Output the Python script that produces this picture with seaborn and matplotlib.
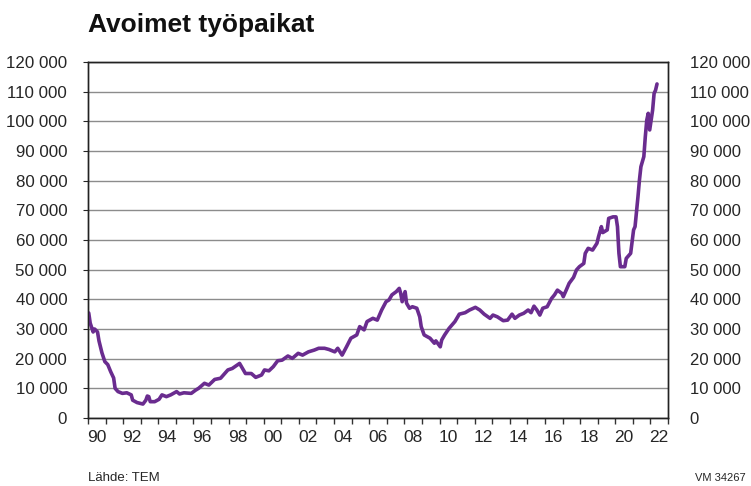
import pandas as pd
import matplotlib
matplotlib.use("Agg")
import matplotlib.pyplot as plt
import matplotlib.ticker as mticker
import seaborn as sns

# Avoimet työpaikat, kuukausittain (luettu kuvasta)
months = [
    "1990-01", "1990-02", "1990-04", "1990-05", "1990-07", "1990-08", "1990-10", "1990-12",
    "1991-02", "1991-04", "1991-06", "1991-07", "1991-09", "1991-12",
    "1992-03", "1992-06", "1992-07", "1992-10",
    "1993-02", "1993-04", "1993-05", "1993-06", "1993-07", "1993-10",
    "1994-01", "1994-03", "1994-06", "1994-09",
    "1995-01", "1995-03", "1995-06", "1995-11",
    "1996-02", "1996-04", "1996-08", "1996-11",
    "1997-03", "1997-07", "1997-12",
    "1998-03", "1998-08", "1998-10", "1998-12",
    "1999-04", "1999-07", "1999-11",
    "2000-01", "2000-04", "2000-07", "2000-10",
    "2001-01", "2001-05", "2001-08", "2001-12",
    "2002-03", "2002-07", "2002-11",
    "2003-02", "2003-06", "2003-09",
    "2004-01", "2004-03", "2004-06", "2004-09", "2004-12",
    "2005-04", "2005-06", "2005-09", "2005-11",
    "2006-03", "2006-06", "2006-09", "2006-12",
    "2007-02", "2007-04", "2007-07", "2007-09", "2007-10", "2007-11",
    "2008-01", "2008-02", "2008-04", "2008-06", "2008-09", "2008-11", "2008-12",
    "2009-02", "2009-06", "2009-09", "2009-10",
    "2010-01", "2010-02", "2010-04", "2010-07", "2010-11",
    "2011-02", "2011-06", "2011-09",
    "2012-01", "2012-04", "2012-07", "2012-11",
    "2013-01", "2013-04", "2013-08", "2013-11",
    "2014-02", "2014-04", "2014-07", "2014-10",
    "2015-01", "2015-03", "2015-05", "2015-07", "2015-09", "2015-11",
    "2016-02", "2016-05", "2016-07", "2016-09", "2016-12",
    "2017-01", "2017-03", "2017-05", "2017-08", "2017-10", "2017-12",
    "2018-03", "2018-04", "2018-06", "2018-09", "2018-12",
    "2019-01", "2019-03", "2019-04", "2019-07", "2019-08", "2019-11",
    "2020-01", "2020-02", "2020-03", "2020-04", "2020-07", "2020-08", "2020-11",
    "2021-01", "2021-02", "2021-04", "2021-05", "2021-06", "2021-08", "2021-09",
    "2021-10", "2021-11", "2021-12",
    "2022-01", "2022-02", "2022-03", "2022-04", "2022-05",
]
vacancies = [
    35400, 32000, 29000, 30000, 29000, 26000, 22000, 19000,
    18000, 15600, 13500, 10000, 8900, 8300,
    8500, 7800, 6000, 5200,
    4700, 6000, 7400, 7200, 5500, 5500,
    6300, 7800, 7200, 7800,
    8900, 8100, 8500, 8300,
    9400, 10000, 11700, 11100,
    13000, 13400, 16200,
    16700, 18400, 16700, 15000,
    15000, 13700, 14500,
    16200, 15900, 17300, 19300,
    19500, 20900, 20100, 21800,
    21200, 22300, 22900,
    23500, 23500, 23100,
    22300, 23500, 21200, 24000, 26900,
    28000, 30800, 29700, 32500,
    33600, 33000, 36400, 39200,
    39800, 41500, 42600, 43700, 42000, 39200,
    42600, 38700, 37000, 37500, 37000, 34100, 30800,
    28000, 26900, 25200, 26000,
    24000, 26300, 28000, 30200, 32500,
    35000, 35500, 36400,
    37300, 36400, 35000, 33600,
    34700, 34100, 32800, 33000,
    35000, 33600, 34700, 35300,
    36400, 35500, 37700, 36400, 34700, 37000,
    37500, 40300, 41500, 43100, 42000,
    40900, 43100, 45400, 47400, 49900, 51000,
    52100, 55500, 57200, 56600, 58900,
    61000, 64500, 62500, 63400, 67300, 67800,
    67800, 64500, 55500, 51000, 51000, 53800, 55500,
    63400, 64500, 74600, 80200, 84700, 88100, 94800,
    100400, 102700, 97100,
    100400, 103800, 109400, 110500, 112600,
]

year_labels = ["90", "92", "94", "96", "98", "00", "02", "04", "06", "08",
               "10", "12", "14", "16", "18", "20", "22"]

df = pd.DataFrame({"month": pd.to_datetime(months), "value": vacancies})
df["t"] = df["month"].dt.year + (df["month"].dt.month - 0.5) / 12

sns.set_style("white")
plt.rcParams["font.family"] = ["Liberation Sans", "DejaVu Sans"]

fig = plt.figure(figsize=(7.51, 4.86), dpi=100)
ax = fig.add_axes([88 / 751, 1 - 418 / 486, 580 / 751, 356 / 486])

sns.lineplot(data=df, x="t", y="value", color="#6a2c8f", linewidth=2.6, ax=ax, zorder=3)

fmt = mticker.FuncFormatter(lambda v, p: f"{v:,.0f}".replace(",", " "))

ax.set_xlim(1990, 2023)
ax.set_ylim(0, 120000)
ax.yaxis.set_major_locator(mticker.MultipleLocator(10000))
ax.yaxis.set_major_formatter(fmt)
ax.grid(axis="y", color="#8c8c8c", linewidth=1)
ax.set_xlabel("")
ax.set_ylabel("")

# vuosien rajat tikkeinä, nimet vuoden keskelle
ax.set_xticks(range(1990, 2024))
ax.set_xticklabels([])
ax.set_xticks([1990.5 + 2 * i for i in range(len(year_labels))], minor=True)
ax.set_xticklabels(year_labels, minor=True)
ax.tick_params(axis="x", which="major", direction="out", length=4, width=1, color="#333333", bottom=True)
ax.tick_params(axis="x", which="minor", length=0, pad=9, labelsize=12.5)
ax.tick_params(axis="y", left=False, pad=11.5, labelsize=12.2)

for s in ax.spines.values():
    s.set_color("#222222")
    s.set_linewidth(1)

ax2 = ax.twinx()
ax2.set_ylim(0, 120000)
ax2.yaxis.set_major_locator(mticker.MultipleLocator(10000))
ax2.yaxis.set_major_formatter(fmt)
ax2.tick_params(axis="y", right=False, pad=12, labelsize=12)
for s in ax2.spines.values():
    s.set_color("#222222")
    s.set_linewidth(1)

fig.text(88 / 751, 1 - 25 / 486, "Avoimet työpaikat", fontsize=19, fontweight="bold",
         va="center", ha="left", color="#111111")
fig.text(88 / 751, 1 - 478 / 486, "Lähde: TEM", fontsize=9.5, va="center", ha="left")
fig.text(746 / 751, 1 - 478 / 486, "VM 34267", fontsize=8, va="center", ha="right")

fig.savefig("out.png", dpi=100)
